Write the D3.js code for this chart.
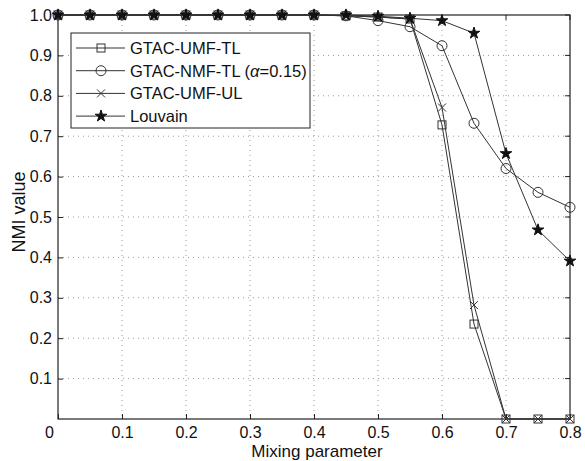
<!DOCTYPE html>
<html>
<head>
<meta charset="utf-8">
<script src="https://cdn.jsdelivr.net/npm/d3@7"></script>
<style>
  body { margin: 0; background: #fff; }
  text { font-family: "Liberation Sans", Arial, sans-serif; fill: #111; }
</style>
</head>
<body>
<div id="chart"></div>
<script>
const mixing = [0, 0.05, 0.1, 0.15, 0.2, 0.25, 0.3, 0.35, 0.4, 0.45, 0.5, 0.55, 0.6, 0.65, 0.7, 0.75, 0.8];
const umfTL   = [1, 1, 1, 1, 1, 1, 1, 1, 1, 0.998, 0.995, 0.99, 0.728, 0.235, 0, 0, 0];
const nmfTL   = [1, 1, 1, 1, 1, 1, 1, 1, 1, 0.998, 0.986, 0.971, 0.924, 0.732, 0.62, 0.561, 0.524];
const umfUL   = [1, 1, 1, 1, 1, 1, 1, 1, 1, 0.998, 0.995, 0.99, 0.771, 0.282, 0, 0, 0];
const louvain = [1, 1, 1, 1, 1, 1, 1, 1, 1, 1, 0.997, 0.992, 0.986, 0.955, 0.657, 0.468, 0.391];
const xTicks = [0, 0.1, 0.2, 0.3, 0.4, 0.5, 0.6, 0.7, 0.8];
const yTicks = [0.1, 0.2, 0.3, 0.4, 0.5, 0.6, 0.7, 0.8, 0.9, 1.0];

const width = 585, height = 461;
const margin = { top: 15, right: 15, bottom: 42, left: 58 };
const w = width - margin.left - margin.right;
const h = height - margin.top - margin.bottom;

const svg = d3.select("#chart").append("svg")
  .attr("width", width).attr("height", height);
const g = svg.append("g").attr("transform", `translate(${margin.left},${margin.top})`);

const x = d3.scaleLinear().domain([0, 0.8]).range([0, w]);
const y = d3.scaleLinear().domain([0, 1]).range([h, 0]);

// grid
g.append("g").selectAll("line").data(xTicks.slice(1, -1)).enter().append("line")
  .attr("x1", d => x(d)).attr("x2", d => x(d)).attr("y1", 0).attr("y2", h)
  .attr("stroke", "#999").attr("stroke-width", 1).attr("stroke-dasharray", "1,4");
g.append("g").selectAll("line").data(yTicks.slice(0, -1)).enter().append("line")
  .attr("y1", d => y(d)).attr("y2", d => y(d)).attr("x1", 0).attr("x2", w)
  .attr("stroke", "#999").attr("stroke-width", 1).attr("stroke-dasharray", "1,4");

// axes
const xAxis = g.append("g").attr("transform", `translate(0,${h})`)
  .call(d3.axisBottom(x).tickValues(xTicks).tickSize(-5).tickPadding(8).tickFormat(d => d === 0 ? "0" : d3.format(".1f")(d)));
const yAxis = g.append("g")
  .call(d3.axisLeft(y).tickValues(yTicks).tickSize(-5).tickPadding(6).tickFormat(d3.format(".1f")));
[xAxis, yAxis].forEach(a => {
  a.select(".domain").remove();
  a.selectAll("line").attr("stroke", "#222");
  a.selectAll("text").attr("font-size", 16).attr("fill", "#111");
});
xAxis.selectAll(".tick").filter(d => d === 0).select("text").attr("dx", -9);

// top ticks / right ticks
g.append("g").selectAll("line").data(xTicks).enter().append("line")
  .attr("x1", d => x(d)).attr("x2", d => x(d)).attr("y1", 0).attr("y2", 5).attr("stroke", "#222");
g.append("g").selectAll("line").data(yTicks).enter().append("line")
  .attr("y1", d => y(d)).attr("y2", d => y(d)).attr("x1", w).attr("x2", w - 5).attr("stroke", "#222");

g.append("rect").attr("width", w).attr("height", h)
  .attr("fill", "none").attr("stroke", "#222").attr("stroke-width", 1.2);

// series
const series = [
  { name: "umfTL", values: umfTL, marker: "square" },
  { name: "nmfTL", values: nmfTL, marker: "circle" },
  { name: "umfUL", values: umfUL, marker: "cross" },
  { name: "louvain", values: louvain, marker: "star" }
];

const line = d3.line().x((d, i) => x(mixing[i])).y(d => y(d));

function drawMarker(sel, type) {
  if (type === "square") {
    sel.append("rect").attr("x", -4).attr("y", -4).attr("width", 8).attr("height", 8)
      .attr("fill", "none").attr("stroke", "#333").attr("stroke-width", 1);
  } else if (type === "circle") {
    sel.append("circle").attr("r", 5)
      .attr("fill", "none").attr("stroke", "#333").attr("stroke-width", 1);
  } else if (type === "cross") {
    sel.append("path").attr("d", "M-4,-4L4,4M-4,4L4,-4")
      .attr("stroke", "#333").attr("stroke-width", 1);
  } else {
    sel.append("path").attr("d", d3.symbol(d3.symbolStar, 42)())
      .attr("fill", "#111").attr("stroke", "#111");
  }
}

series.forEach(s => {
  g.append("path").datum(s.values).attr("d", line)
    .attr("fill", "none").attr("stroke", "#333").attr("stroke-width", 1);
});
series.forEach(s => {
  g.append("g").selectAll("g").data(s.values).enter().append("g")
    .attr("transform", (d, i) => `translate(${x(mixing[i])},${y(d)})`)
    .each(function () { drawMarker(d3.select(this), s.marker); });
});

// legend
const legend = svg.append("g").attr("transform", "translate(71,33)");
legend.append("rect").attr("width", 239).attr("height", 95)
  .attr("fill", "#fff").attr("stroke", "#222").attr("stroke-width", 1);
const labels = ["GTAC-UMF-TL", "GTAC-NMF-TL", "GTAC-UMF-UL", "Louvain"];
labels.forEach((lab, i) => {
  const ly = 15 + i * 22.7;
  legend.append("line").attr("x1", 5).attr("x2", 54).attr("y1", ly).attr("y2", ly)
    .attr("stroke", "#333").attr("stroke-width", 1);
  drawMarker(legend.append("g").attr("transform", `translate(30,${ly})`), series[i].marker);
  const t = legend.append("text").attr("x", 59).attr("y", ly + 6).attr("font-size", 16.5).text(lab);
  if (i === 1) {
    t.append("tspan").text(" (");
    t.append("tspan").attr("font-style", "italic").text("α");
    t.append("tspan").text("=0.15)");
  }
});

// axis titles
svg.append("text").attr("x", 317).attr("y", 457).attr("text-anchor", "middle")
  .attr("font-size", 17).text("Mixing parameter");
svg.append("text").attr("transform", "translate(25,212) rotate(-90)").attr("text-anchor", "middle")
  .attr("font-size", 18).text("NMI value");
</script>
</body>
</html>
